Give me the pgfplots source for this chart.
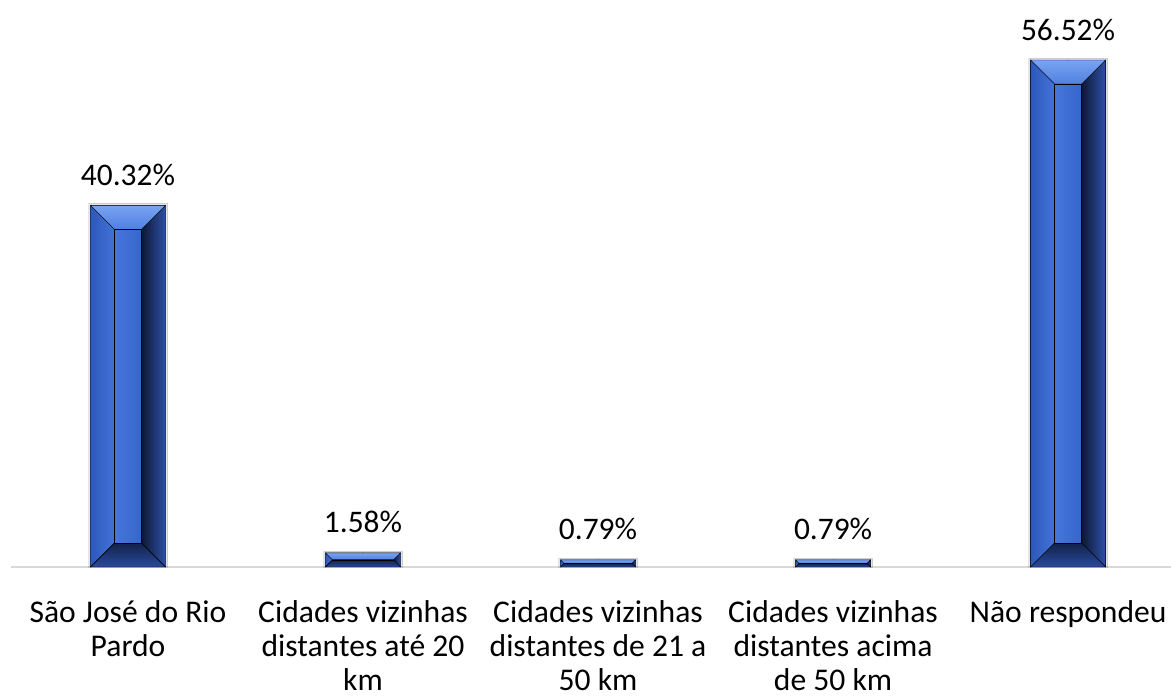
\documentclass[border=0pt]{standalone}
\usepackage{pgfplots}
\pgfplotsset{compat=1.18}
\usepackage{fontspec}
\setmainfont{Carlito}

\definecolor{barbase}{HTML}{3A66CC}
\definecolor{topA}{HTML}{7AA4F2}
\definecolor{topB}{HTML}{4F80E0}
\definecolor{leftA}{HTML}{2D58BA}
\definecolor{leftB}{HTML}{4373D8}
\definecolor{faceA}{HTML}{4676DA}
\definecolor{faceB}{HTML}{3666CC}
\definecolor{rightA}{HTML}{0D1833}
\definecolor{rightB}{HTML}{2E50A8}
\definecolor{botA}{HTML}{13224A}
\definecolor{botB}{HTML}{2A4A9C}
\definecolor{axisgray}{HTML}{D9D9D9}

\newcommand\s{\rule{0pt}{22pt}}

\begin{document}
\begin{tikzpicture}
\begin{axis}[
    at={(10.5pt,133pt)}, anchor=south west,
    scale only axis,
    width=1160.5pt, height=565.1pt,
    xmin=-0.5, xmax=4.438,
    ymin=0, ymax=63,
    axis x line*=bottom,
    axis y line=none,
    x axis line style={draw=axisgray, line width=1.5pt, -},
    xtick={0,1,2,3,4},
    major tick length=0pt,
    ytick=\empty,
    xticklabels={
        {\s São José do Rio\\Pardo},
        {\s Cidades vizinhas\\distantes até 20\\km},
        {\s Cidades vizinhas\\distantes de 21 a\\50 km},
        {\s Cidades vizinhas\\distantes acima\\de 50 km},
        {\s Não respondeu}},
    xticklabel style={font=\fontsize{31.6}{34}\selectfont, align=center,
        anchor=north, inner sep=0pt, yshift=-33pt},
    /pgf/number format/assume math mode=true,
    clip=false,
]
\addplot[ybar, bar width=75pt, fill=barbase, draw=none,
    nodes near coords={\pgfmathprintnumber[fixed,precision=2,fixed zerofill]{\pgfplotspointmeta}\%},
    every node near coord/.append style={font=\fontsize{31.4}{34}\selectfont,
        anchor=base, inner sep=0pt, yshift=20pt, text=black},
] coordinates {(0,40.32) (1,1.58) (2,0.79) (3,0.79) (4,56.52)};

\addplot[scatter, only marks, mark=*, mark size=0.01pt,
    visualization depends on={rawy \as \ry},
    scatter/@pre marker code/.code={%
        \pgfmathsetmacro\h{\ry*8.97}%
        \pgfmathsetmacro\b{min(24,\h/2)}%
        \pgfmathsetmacro\hb{\h-\b}%
        \pgfmathsetmacro\wi{37.5-\b}%
        \fill[black, opacity=0.10] (-39.5pt,2pt) rectangle (39.5pt,-\h pt);
        \shade[left color=leftA, right color=leftB]
            (-37.5pt,0pt) -- (-\wi pt,-\b pt) -- (-\wi pt,-\hb pt) -- (-37.5pt,-\h pt) -- cycle;
        \shade[left color=rightA, right color=rightB]
            (37.5pt,0pt) -- (\wi pt,-\b pt) -- (\wi pt,-\hb pt) -- (37.5pt,-\h pt) -- cycle;
        \shade[top color=topA, bottom color=topB]
            (-37.5pt,0pt) -- (37.5pt,0pt) -- (\wi pt,-\b pt) -- (-\wi pt,-\b pt) -- cycle;
        \shade[top color=botA, bottom color=botB]
            (-37.5pt,-\h pt) -- (37.5pt,-\h pt) -- (\wi pt,-\hb pt) -- (-\wi pt,-\hb pt) -- cycle;
        \shade[left color=faceA, right color=faceB]
            (-\wi pt,-\b pt) rectangle (\wi pt,-\hb pt);
        \scope[draw=none, fill=none]
    },
    scatter/@post marker code/.code={\endscope},
] coordinates {(0,40.32) (1,1.58) (2,0.79) (3,0.79) (4,56.52)};
\end{axis}
\pgfresetboundingbox
\path[use as bounding box] (0,0) rectangle (1171pt,700pt);
\end{tikzpicture}
\end{document}
